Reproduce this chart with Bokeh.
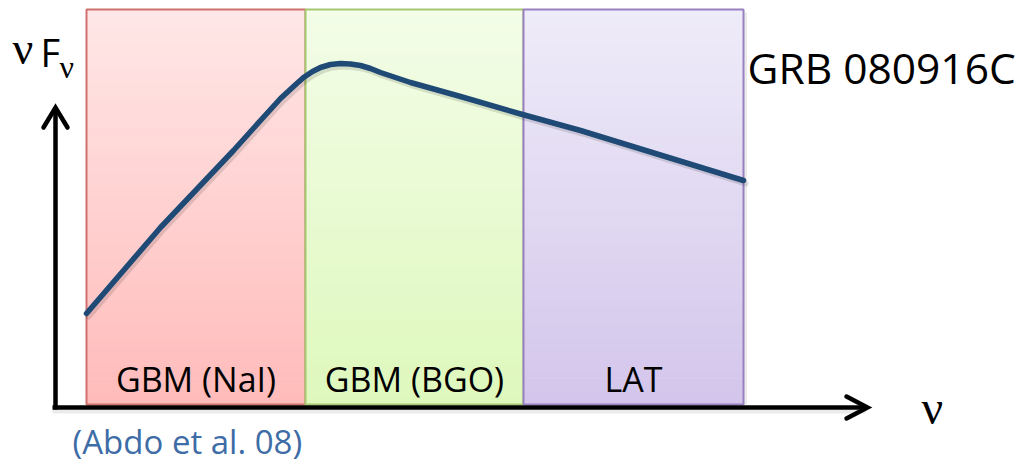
from bokeh.plotting import figure
from bokeh.models import Range1d
from bokeh.core.properties import value
from bokeh.embed import file_html
from bokeh.resources import INLINE

# ---- data (diagram units; x grows with frequency, y grows downward) ----
band_names = ["GBM (NaI)", "GBM (BGO)", "LAT"]
band_left = [86, 305, 523]
band_right = [305, 523, 743]
band_top = 9
band_bottom = 404
band_top_colors = ["#FFE7E7", "#F3FDE8", "#EFECF9"]
band_bottom_colors = ["#FFBBBA", "#DEF8BC", "#D3C5EB"]
band_edge_colors = ["#D0706C", "#A5C770", "#9980C0"]

# Schematic spectrum nuFnu
curve_x = [86, 160, 233, 260, 280, 293, 303, 312, 320, 330, 340, 350, 360, 370, 380, 410, 460, 522, 580, 743]
curve_y = [313, 227, 150, 120, 98, 86, 77, 71, 67, 64, 63, 63.5, 65, 68, 72, 82, 96, 114, 130, 180]

axis_origin_x = 55
axis_origin_y = 407
axis_top_y = 107
axis_right_x = 867

title_text = "GRB 080916C"
ref_text = "(Abdo et al. 08)"

# ---- figure ----
p = figure(width=1018, height=465, x_range=Range1d(0, 1018), y_range=Range1d(465, 0),
           output_backend="svg", toolbar_location=None, min_border=0,
           x_axis_type=None, y_axis_type=None)
p.grid.visible = False
p.outline_line_color = None
p.background_fill_color = "white"
p.border_fill_color = "white"


def hex2rgb(h):
    h = h.lstrip("#")
    return [int(h[i:i + 2], 16) for i in (0, 2, 4)]


def rgb2hex(c):
    return "#%02x%02x%02x" % tuple(int(round(v)) for v in c)


# gradient bands built from thin strips
n = 60
for L, R, ct, cb, ce in zip(band_left, band_right, band_top_colors, band_bottom_colors, band_edge_colors):
    a, b = hex2rgb(ct), hex2rgb(cb)
    tops, bots, cols = [], [], []
    for i in range(n):
        t = (i + 0.5) / n
        y0 = band_top + (band_bottom - band_top) * i / n
        y1 = band_top + (band_bottom - band_top) * (i + 1) / n
        tops.append(y0)
        bots.append(y1 + 0.6)
        cols.append(rgb2hex([a[k] + (b[k] - a[k]) * t for k in range(3)]))
    p.quad(left=[L] * n, right=[R] * n, top=tops, bottom=bots, fill_color=cols, line_color=None)
    p.line(x=[R + 2, R + 2], y=[band_top + 3, band_bottom], line_color="#000000", line_alpha=0.08, line_width=3)
    p.quad(left=[L], right=[R], top=[band_top], bottom=[band_bottom], fill_color=None,
           line_color=ce, line_width=2)


def put_text(x, y, txt, font, size, color="black", align="left"):
    # baseline y given; compensate the renderer's baseline shift
    p.text(x=x, y=[v - 0.42 * size for v in y], text=txt, text_align=align, text_baseline="alphabetic",
           text_font=value(font), text_font_size=f"{size}px", text_color=color)


# band labels
centers = [(l + r) / 2 for l, r in zip(band_left, band_right)]
put_text(centers, [393] * 3, band_names, "Open Sans", 34, align="center")

# curve shadow + curve
p.line(x=[x + 2 for x in curve_x], y=[y + 3 for y in curve_y], line_color="#000000", line_alpha=0.12,
       line_width=6, line_join="round", line_cap="round")
p.line(x=curve_x, y=curve_y, line_color="#1E4A75", line_width=5.5, line_join="round", line_cap="round")

# axes with arrowheads
p.line(x=[axis_origin_x, axis_origin_x], y=[axis_origin_y + 2, axis_top_y + 2], line_color="black",
       line_width=4.5)
p.line(x=[axis_origin_x - 3, axis_right_x - 2], y=[axis_origin_y, axis_origin_y], line_color="black",
       line_width=4.5)
p.line(x=[axis_origin_x - 3, axis_right_x - 2], y=[axis_origin_y + 4, axis_origin_y + 4], line_color="#000000",
       line_alpha=0.08, line_width=4)
p.line(x=[axis_origin_x - 12, axis_origin_x, axis_origin_x + 12], y=[axis_top_y + 20, axis_top_y, axis_top_y + 20],
       line_color="black", line_width=4.5, line_join="miter", line_cap="round")
p.line(x=[axis_right_x - 21, axis_right_x, axis_right_x - 21], y=[axis_origin_y - 11, axis_origin_y, axis_origin_y + 11],
       line_color="black", line_width=4.5, line_join="miter", line_cap="round")

# axis symbols
put_text([12], [67], ["\u03bd"], "Liberation Serif", 46)
put_text([40], [67], ["F"], "Open Sans", 38)
put_text([59], [80], ["\u03bd"], "Liberation Serif", 32)
put_text([921], [427], ["\u03bd"], "Liberation Serif", 48)

# title and reference
put_text([747], [85], [title_text], "Open Sans", 42.5)
put_text([72], [455], [ref_text], "Open Sans", 33, color="#3D6CA6")

open("out.html", "w").write(file_html(p, INLINE))
